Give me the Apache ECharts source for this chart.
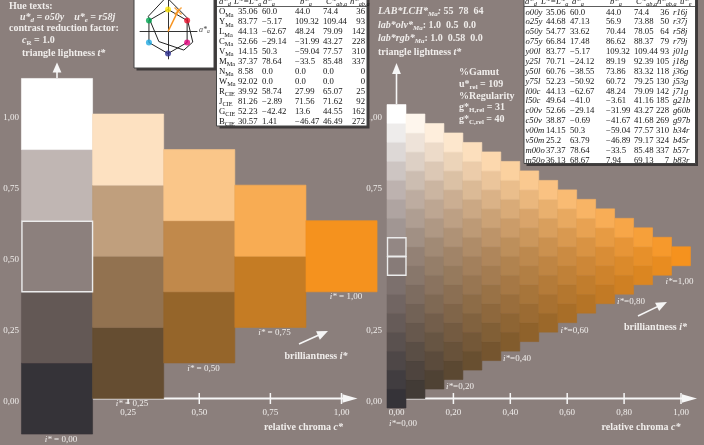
<!DOCTYPE html>
<html>
<head>
<meta charset="utf-8">
<script src="https://cdn.jsdelivr.net/npm/echarts@6.0.0/dist/echarts.min.js"></script>
<style>
html,body{margin:0;padding:0;background:#8b7f7c;overflow:hidden;}
#c{width:704px;height:445px;}
</style>
</head>
<body>
<div id="c"></div>
<script>
// ---------------- data ----------------
const leftChroma    = [0, 0, 0, 0, 0, 0.25, 0.25, 0.25, 0.25, 0.5, 0.5, 0.5, 0.75, 0.75, 1];
const leftLightness = [0, 0.25, 0.5, 0.75, 1, 0.125, 0.375, 0.625, 0.875, 0.25, 0.5, 0.75, 0.375, 0.625, 0.5];
const leftMarked    = [[0, 0.5]];

// right triangle: chroma in 1/15 steps, lightness in 1/30 steps
const rightChroma15 = [0,1,2,3,4,5,6,7,8,9,10,11,12,13,14,15];
const rightLightness30 = [
  [0,2,4,6,8,10,12,14,16,18,20,22,24,26,28,30],
  [1,3,5,7,9,11,13,15,17,19,21,23,25,27,29],
  [2,4,6,8,10,12,14,16,18,20,22,24,26,28],
  [3,5,7,9,11,13,15,17,19,21,23,25,27],
  [4,6,8,10,12,14,16,18,20,22,24,26],
  [5,7,9,11,13,15,17,19,21,23,25],
  [6,8,10,12,14,16,18,20,22,24],
  [7,9,11,13,15,17,19,21,23],
  [8,10,12,14,16,18,20,22],
  [9,11,13,15,17,19,21],
  [10,12,14,16,18,20],
  [11,13,15,17,19],
  [12,14,16,18],
  [13,15,17],
  [14,16],
  [15]
];
const rightMarked = [[0, 14], [0, 16]];

const leftXTickValues   = [0, 0.25, 0.5, 0.75, 1];
const leftXLabelValues  = [0.25, 0.5, 0.75, 1];
const rightXTickValues  = [0, 0.2, 0.4, 0.6, 0.8, 1];
const leftYLabelValues  = [0, 0.25, 0.5, 0.75, 1];
const rightYLabelValues = [0, 0.25, 0.75, 1];

// table 1
const t1Name = ['O','Y','L','C','V','M','N','W','R','J','G','B'];
const t1Sub  = ['Ma','Ma','Ma','Ma','Ma','Ma','Ma','Ma','CIE','CIE','CIE','CIE'];
const t1L = ['35.06','83.77','44.13','52.66','14.15','37.37','8.58','92.02','39.92','81.26','52.23','30.57'];
const t1a = ['60.0','\u22125.17','\u221262.67','\u221229.14','50.3','78.64','0.0','0.0','58.74','\u22122.89','\u221242.42','1.41'];
const t1b = ['44.0','109.32','48.24','\u221231.99','\u221259.04','\u221233.5','0.0','0.0','27.99','71.56','13.6','\u221246.47'];
const t1C = ['74.4','109.44','79.09','43.27','77.57','85.48','0.0','0.0','65.07','71.62','44.55','46.49'];
const t1h = ['36','93','142','228','310','337','0','0','25','92','162','272'];

// table 2
const t2Name = ['o00y','o25y','o50y','o75y','y00l','y25l','y50l','y75l','l00c','l50c','c00v','c50v','v00m','v50m','m00o','m50o'];
const t2L = ['35.06','44.68','54.77','66.84','83.77','70.71','60.76','52.23','44.13','49.64','52.66','38.87','14.15','25.2','37.37','36.13'];
const t2a = ['60.0','47.13','33.62','17.48','\u22125.17','\u221224.12','\u221238.55','\u221250.92','\u221262.67','\u221241.0','\u221229.14','\u22120.69','50.3','63.79','78.64','68.67'];
const t2b = ['44.0','56.9','70.44','86.62','109.32','89.19','73.86','60.72','48.24','\u22123.61','\u221231.99','\u221241.67','\u221259.04','\u221246.89','\u221233.5','7.94'];
const t2C = ['74.4','73.88','78.05','88.37','109.44','92.39','83.32','79.25','79.09','41.16','43.27','41.68','77.57','79.17','85.48','69.13'];
const t2h = ['36','50','64','79','93','105','118','130','142','185','228','269','310','324','337','7'];
const t2u = ['r16j','r37j','r58j','r79j','j01g','j18g','j36g','j53g','j71g','g21b','g60b','g97b','b34r','b45r','b57r','b83r'];

// hue hexagon inset (a*, b*)
const hexDotA = [0, 60.6, 60.6, 0, -60.6, -60.6];
const hexDotB = [70, 35, -35, -70, -35, 35];
const hexDotColor = ['#ffe600','#e8112d','#e4007c','#2e3192','#21a9e1','#00a651'];
const maLCH = [55, 78, 64];

// ---------------- helpers ----------------
const SERIF = 'Liberation Serif';
const TXT = '#f0edeb';
const WHITE = '#f6f6f6';
const U = 284.5, T0 = 398.5;
const Y_MIN = -0.15, Y_MAX = 1.25;
const L0 = 57, R0 = 396.5;
const LX_MIN = -0.125, LX_MAX = 1.125;
const RX_MIN = -1/30, RX_MAX = 31/30;
const num = s => parseFloat(String(s).replace('\u2212','-'));
const fmt = v => v.toFixed(2).replace('.', ',');

const GREY = [[53,51,56],[99,88,85],[140,128,125],[192,182,179],[255,255,255]];
const HUE = [245,146,30];
function grey(g){ g=Math.max(0,Math.min(1,g)); const s=g*4; const i=Math.min(3,Math.floor(s)); const f=s-i; return GREY[i].map((v,k)=>v+(GREY[i+1][k]-v)*f); }
function rgb(a){ return 'rgb(' + a.map(v=>Math.round(Math.max(0,Math.min(255,v)))).join(',') + ')'; }
function cellColor(c,t){
  if (c>=0.999) return rgb(HUE);
  const g=(t-c/2)/(1-c); const gr=grey(g);
  // slightly faster approach to the hue in G/B, as seen in the reference
  const cg = Math.pow(c, 0.93);
  return rgb([HUE[0]*c+(1-c)*gr[0], HUE[1]*cg+(1-cg)*gr[1], HUE[2]*cg+(1-cg)*gr[2]]);
}

function cellRenderer(size){
  return function(params, api){
    const c = api.value(0), t = api.value(1);
    const p0 = api.coord([c - size/2, t + size/2]);
    const p1 = api.coord([c + size/2, t - size/2]);
    const col = cellColor(c, t);
    return {type:'rect', shape:{x:p0[0], y:p0[1], width:p1[0]-p0[0], height:p1[1]-p0[1]}, style:{fill:col, stroke:col, lineWidth:0.6}};
  };
}
function markRenderer(size){
  return function(params, api){
    const c = api.value(0), t = api.value(1);
    const p0 = api.coord([c - size/2, t + size/2]);
    const p1 = api.coord([c + size/2, t - size/2]);
    return {type:'rect', shape:{x:p0[0]+0.5, y:p0[1]+0.5, width:p1[0]-p0[0]-0.5, height:p1[1]-p0[1]-0.5}, style:{fill:'none', stroke:'#ececec', lineWidth:1.4}};
  };
}
function axisRenderer(ticks){
  return function(params, api){
    const p0 = api.coord([0,0]), p1 = api.coord([1,0]);
    const y = p0[1];
    const ch = [
      {type:'line', shape:{x1:p0[0], y1:y, x2:p1[0]+3, y2:y}, style:{stroke:WHITE, lineWidth:2}},
      {type:'polygon', shape:{points:[[p1[0]+1,y-4.2],[p1[0]+16,y],[p1[0]+1,y+4.2]]}, style:{fill:WHITE}}
    ];
    ticks.forEach(v => { const p = api.coord([v,0]); ch.push({type:'line', shape:{x1:p[0], y1:y-5.5, x2:p[0], y2:y+5.5}, style:{stroke:WHITE, lineWidth:1.5}}); });
    return {type:'group', children: ch};
  };
}

const leftCells = leftChroma.map((c,i)=>[c, leftLightness[i]]);
const rightCells = [];
rightChroma15.forEach((k,i)=>{ rightLightness30[i].forEach(j=>rightCells.push([k/15, j/30])); });
const rightMarkCells = rightMarked.map(d=>[d[0]/15, d[1]/30]);

// rich text styles
const TF = 8.7;
function rs(size, weight, style, color, lh, va){ const o={fontFamily:SERIF, fontSize:size, fontWeight:weight, fontStyle:style, fill:color, lineHeight:lh}; if(va) o.verticalAlign=va; return o; }
const RICH = {
  b:   rs(10,'bold','normal',TXT,13),
  bi:  rs(10,'bold','italic',TXT,13),
  bs:  rs(7,'bold','normal',TXT,7,'bottom'),
  bis: rs(7,'bold','italic',TXT,7,'bottom'),
  r:   rs(9,'normal','normal',TXT,12),
  i:   rs(9,'normal','italic',TXT,12),
  t:   rs(TF,'normal','normal','#151515',12),
  ti:  rs(TF,'normal','italic','#151515',12),
  ts:  rs(6.3,'normal','normal','#151515',6,'bottom'),
  tis: rs(6.3,'normal','italic','#151515',6,'bottom'),
  si:  rs(8,'normal','italic','#444',11),
  sis: rs(5.5,'normal','italic','#444',5,'bottom')
};
const G = [];
function txt(x, y, text, align){
  G.push({type:'text', x:x, y:y, z:20, silent:true, style:{text:text, rich:RICH, align:align||'left', verticalAlign:'middle', fontFamily:SERIF, fontSize:9, fill:TXT}});
}
function rect(x,y,w,h,fill,stroke,z){ G.push({type:'rect', z:z, silent:true, shape:{x:x,y:y,width:w,height:h}, style:{fill:fill, stroke:stroke||null, lineWidth:1}}); }
function hline(x1,x2,y,z){ G.push({type:'line', z:z, silent:true, shape:{x1:x1,y1:y,x2:x2,y2:y}, style:{stroke:'#333', lineWidth:0.8}}); }
function arrow(x1,y1,x2,y2,hl,hw){
  const dx=x2-x1, dy=y2-y1, L=Math.hypot(dx,dy), ux=dx/L, uy=dy/L;
  const bx=x2-ux*hl, by=y2-uy*hl;
  G.push({type:'line', z:15, silent:true, shape:{x1:x1,y1:y1,x2:bx+ux,y2:by+uy}, style:{stroke:WHITE, lineWidth:1.6}});
  G.push({type:'polygon', z:15, silent:true, shape:{points:[[x2,y2],[bx-uy*hw,by+ux*hw],[bx+uy*hw,by-ux*hw]]}, style:{fill:WHITE}});
}

// boxes
rect(136.5,-5,80,75.5,'#3e3a3a',null,4);
rect(134,-5,80,73,'#ffffff','#444',5);
rect(219.5,-5,150,133.5,'#3e3a3a',null,4);
rect(216.5,-5,150.5,131,'#ffffff','#444',5);
hline(216.5,367,6.5,6);
rect(526.5,-5,171.5,171,'#3e3a3a',null,4);
rect(524,-5,171.5,168.5,'#ffffff','#444',5);
hline(524,695.5,6.5,6);

// table headers (cut at top)
txt(219, 1.5, '{ti|a*}{tis|d}');
txt(234, 1.5, '{ti|L*=L*}{tis|a}');
txt(263, 1.5, '{ti|a*}{tis|a}');
txt(300, 1.5, '{ti|b*}{tis|a}');
txt(326, 1.5, '{ti|C*}{tis|ab,a}');
txt(350, 1.5, '{ti|h*}{tis|ab,a}');
txt(525, 1.5, '{ti|a*}{tis|d}');
txt(541, 1.5, '{ti|L*=L*}{tis|a}');
txt(572, 1.5, '{ti|a*}{tis|a}');
txt(610, 1.5, '{ti|b*}{tis|a}');
txt(636, 1.5, '{ti|C*}{tis|ab,a}');
txt(657, 1.5, '{ti|h*}{tis|ab,a}');
txt(680, 1.5, '{ti|u*}{tis|e}');

t1Name.forEach((n,i)=>{
  const y = 12 + i*9.94;
  txt(219, y, '{t|'+n+'}{ts|'+t1Sub[i]+'}');
  txt(238, y, '{t|'+t1L[i]+'}');
  txt(262, y, '{t|'+t1a[i]+'}');
  txt(295, y, '{t|'+t1b[i]+'}');
  txt(323, y, '{t|'+t1C[i]+'}');
  txt(365, y, '{t|'+t1h[i]+'}', 'right');
});
t2Name.forEach((n,i)=>{
  const y = 12.3 + i*9.87;
  txt(525.5, y, '{ti|'+n+'}');
  txt(546, y, '{t|'+t2L[i]+'}');
  txt(570, y, '{t|'+t2a[i]+'}');
  txt(606, y, '{t|'+t2b[i]+'}');
  txt(634, y, '{t|'+t2C[i]+'}');
  txt(669, y, '{t|'+t2h[i]+'}', 'right');
  txt(673, y, '{ti|'+t2u[i]+'}');
});

// header texts
txt(9, 6.5, '{b|Hue texts:}');
txt(20, 17.5, '{bi|u*}{bis|d}{bi| = o50y    u*}{bis|e}{bi| = r58j}');
txt(9, 28.5, '{b|contrast reduction factor:}');
txt(22, 40.5, '{bi|c}{bs|R}{b| = 1.0}');
txt(22, 53.5, '{b|triangle lightness }{bi|t*}');
txt(378, 11.5, '{bi|LAB*LCH*}{bis|Ma}{bi|: }{b|55  78  64}');
txt(378, 25, '{bi|lab*olv*}{bis|Ma}{b|: 1.0  0.5  0.0}');
txt(378, 38.5, '{bi|lab*rgb*}{bis|Ma}{b|: 1.0  0.58  0.0}');
txt(378, 52, '{b|triangle lightness }{bi|t*}');
txt(459, 72, '{b|%Gamut}');
txt(459, 84, '{b|u*}{bs|rel}{b| = 109}');
txt(459, 96, '{b|%Regularity}');
txt(459, 107.5, '{b|g*}{bs|H,rel}{b| = 31}');
txt(459, 119, '{b|g*}{bs|C,rel}{b| = 40}');
txt(199, 29.5, '{si|a*}{sis|a}');

// chart annotations
txt(61, 440, '{i|i*}{r| = 0,00}', 'center');
txt(132, 404, '{i|i*}{r| = 0,25}', 'center');
txt(203.5, 369, '{i|i*}{r| = 0,50}', 'center');
txt(274.5, 333, '{i|i*}{r| = 0,75}', 'center');
txt(346, 297, '{i|i*}{r| = 1,00}', 'center');
txt(303.5, 427, '{b|relative chroma }{bi|c*}', 'center');
txt(316, 356.5, '{b|brilliantness }{bi|i*}', 'center');
txt(403, 424, '{i|i*}{r|=0,00}', 'center');
txt(460, 387, '{i|i*}{r|=0,20}', 'center');
txt(517, 359, '{i|i*}{r|=0,40}', 'center');
txt(574.5, 330.5, '{i|i*}{r|=0,60}', 'center');
txt(631, 302, '{i|i*}{r|=0,80}', 'center');
txt(679.5, 282, '{i|i*}{r|=1,00}', 'center');
txt(641, 427, '{b|relative chroma }{bi|c*}', 'center');
txt(655.5, 327, '{b|brilliantness }{bi|i*}', 'center');

arrow(57, 78, 57, 62.5, 10, 4.4);
arrow(396.5, 104, 396.5, 63, 11, 4.4);
arrow(299, 344, 328, 331, 11, 4.6);
arrow(638, 316, 667, 302, 11, 4.6);

// ---------------- chart ----------------
const chart = echarts.init(document.getElementById('c'), null, {renderer:'canvas'});
const gridTop = T0 - Y_MAX*U, gridH = (Y_MAX - Y_MIN)*U;
const gridBottom = gridTop + gridH;
const labelStyle = {color: TXT, fontFamily: SERIF, fontSize: 9};
function valueX(gi, min, max, labels){
  return {type:'value', gridIndex:gi, min:min, max:max, z:0, position:'bottom', offset:-(gridBottom - T0),
    axisLine:{show:false, onZero:false}, axisTick:{show:false}, splitLine:{show:false},
    axisLabel:Object.assign({customValues:labels, formatter:fmt, margin:10}, labelStyle)};
}
function valueY(gi, labels, margin){
  return {type:'value', gridIndex:gi, min:Y_MIN, max:Y_MAX, z:0,
    axisLine:{show:false, onZero:false}, axisTick:{show:false}, splitLine:{show:false},
    axisLabel:{customValues:labels, margin:margin, formatter:v=>'{a|'+fmt(v)+'}',
      rich:{a:{color:TXT, fontFamily:SERIF, fontSize:9, lineHeight:11, padding:[7,0,0,0]}}}};
}
const maA = maLCH[1]*Math.cos(maLCH[2]*Math.PI/180), maB = maLCH[1]*Math.sin(maLCH[2]*Math.PI/180);
const maPoly = [0,1,2,3,4,5,0].map(i=>[num(t1a[i]), num(t1b[i])]);
const hexPoly = [0,1,2,3,4,5,0].map(i=>[hexDotA[i], hexDotB[i]]);
const insetAxis = {show:true, onZero:true, lineStyle:{color:'#333', width:1}};

chart.setOption({
  animation:false,
  backgroundColor:'#8b7f7c',
  grid:[
    {left:L0+LX_MIN*U, top:gridTop, width:(LX_MAX-LX_MIN)*U, height:gridH, containLabel:false, outerBoundsMode:'none'},
    {left:R0+RX_MIN*U, top:gridTop, width:(RX_MAX-RX_MIN)*U, height:gridH, containLabel:false, outerBoundsMode:'none'},
    {left:140, top:0, width:57, height:58.9, containLabel:false, outerBoundsMode:'none'}
  ],
  xAxis:[
    valueX(0, LX_MIN, LX_MAX, leftXLabelValues),
    valueX(1, RX_MIN, RX_MAX, rightXTickValues),
    {type:'value', gridIndex:2, min:-89, max:92, z:6, axisLine:insetAxis, axisTick:{show:false}, axisLabel:{show:false}, splitLine:{show:false}}
  ],
  yAxis:[
    valueY(0, leftYLabelValues, 2.4),
    valueY(1, rightYLabelValues, 5),
    {type:'value', gridIndex:2, min:-87, max:100, z:6, axisLine:insetAxis, axisTick:{show:false}, axisLabel:{show:false}, splitLine:{show:false}}
  ],
  series:[
    {type:'custom', xAxisIndex:0, yAxisIndex:0, z:1, clip:false, silent:true, data:[[0,0]], renderItem:axisRenderer(leftXTickValues)},
    {type:'custom', xAxisIndex:0, yAxisIndex:0, z:2, clip:false, silent:true, data:leftCells, renderItem:cellRenderer(0.25)},
    {type:'custom', xAxisIndex:0, yAxisIndex:0, z:3, clip:false, silent:true, data:leftMarked, renderItem:markRenderer(0.25)},
    {type:'custom', xAxisIndex:1, yAxisIndex:1, z:1, clip:false, silent:true, data:[[0,0]], renderItem:axisRenderer(rightXTickValues)},
    {type:'custom', xAxisIndex:1, yAxisIndex:1, z:2, clip:false, silent:true, data:rightCells, renderItem:cellRenderer(1/15)},
    {type:'custom', xAxisIndex:1, yAxisIndex:1, z:3, clip:false, silent:true, data:rightMarkCells, renderItem:markRenderer(1/15)},
    {type:'line', xAxisIndex:2, yAxisIndex:2, z:7, clip:false, silent:true, symbol:'none', data:hexPoly, lineStyle:{color:'#222', width:1}},
    {type:'line', xAxisIndex:2, yAxisIndex:2, z:7, clip:false, silent:true, symbol:'none', data:maPoly, lineStyle:{color:'#222', width:1}},
    {type:'scatter', xAxisIndex:2, yAxisIndex:2, z:8, clip:false, silent:true, symbolSize:6,
      data:hexDotA.map((a,i)=>({value:[a, hexDotB[i]], itemStyle:{color:hexDotColor[i]}}))},
    {type:'line', xAxisIndex:2, yAxisIndex:2, z:9, clip:false, silent:true, symbol:'none', data:[[0,0],[maA,maB]], lineStyle:{color:'#f7931e', width:1.5}},
    {type:'scatter', xAxisIndex:2, yAxisIndex:2, z:9, clip:false, silent:true, symbol:'path://M0,0L10,10M10,0L0,10', symbolSize:7,
      data:[[maA*0.93, maB*0.93]], itemStyle:{color:'none', borderColor:'#f7931e', borderWidth:1.5}}
  ],
  graphic:{elements:G}
});
</script>
</body>
</html>
